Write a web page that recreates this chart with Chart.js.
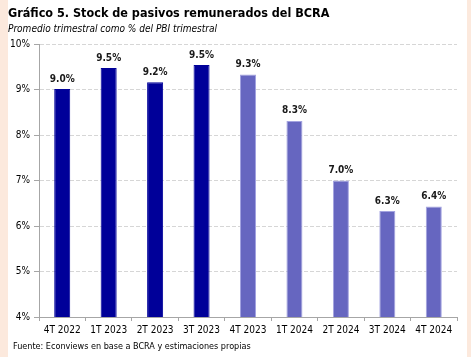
<!DOCTYPE html>
<html><head><meta charset="utf-8">
<script src="https://cdn.jsdelivr.net/npm/chart.js@4/dist/chart.umd.min.js"></script>
<style>
html,body{margin:0;padding:0;}
body{width:471px;height:357px;background:#FCE9DD;position:relative;overflow:hidden;font-family:"DejaVu Sans Condensed","DejaVu Sans",sans-serif;}
#panel{position:absolute;left:8px;top:0;width:459px;height:357px;background:#fff;}
#c{position:absolute;left:0;top:0;}
.t{position:absolute;white-space:nowrap;color:#000;}
#title{left:8px;top:5px;font-size:12.5px;font-weight:bold;}
#sub{left:8px;top:23px;font-size:10px;font-style:italic;}
#src{left:13px;top:341px;font-size:9px;}
</style></head>
<body>
<div id="panel"></div>
<canvas id="c" width="471" height="357"></canvas>
<div class="t" id="title">Gráfico 5. Stock de pasivos remunerados del BCRA</div>
<div class="t" id="sub">Promedio trimestral como % del PBI trimestral</div>
<div class="t" id="src">Fuente: Econviews en base a BCRA y estimaciones propias</div>
<script>
const categories = ["4T 2022","1T 2023","2T 2023","3T 2023","4T 2023","1T 2024","2T 2024","3T 2024","4T 2024"];
const values = [9.01, 9.47, 9.16, 9.54, 9.33, 8.31, 7.00, 6.33, 6.43];
const valueLabels = ["9.0%","9.5%","9.2%","9.5%","9.3%","8.3%","7.0%","6.3%","6.4%"];
const yTicks = [4,5,6,7,8,9,10];

const FONT = '"DejaVu Sans Condensed","DejaVu Sans",sans-serif';
const fill = categories.map((c,i)=> i<4 ? '#000099' : '#6666C0');
const border = categories.map((c,i)=> i<4 ? '#000099' : '#A3A3E0');

const labelPlugin = {
  id:'vlabels',
  afterDatasetsDraw(chart){
    const ctx = chart.ctx;
    const meta = chart.getDatasetMeta(0);
    ctx.save();
    ctx.font = 'bold 10px ' + FONT;
    ctx.fillStyle = '#1a1a1a';
    ctx.textAlign = 'center';
    ctx.textBaseline = 'bottom';
    meta.data.forEach((bar,i)=>{
      ctx.fillText(valueLabels[i], bar.x, bar.y - 5);
    });
    ctx.restore();
  }
};

new Chart(document.getElementById('c'), {
  type:'bar',
  data:{labels:categories, datasets:[{data:values, backgroundColor:fill, borderColor:border, borderWidth:1, barPercentage:0.345, categoryPercentage:1}]},
  options:{
    responsive:false, animation:false,
    layout:{padding:{left:0,right:14,top:44,bottom:18}},
    plugins:{legend:{display:false}, tooltip:{enabled:false}},
    scales:{
      y:{
        min:4, max:10,
        afterBuildTicks(s){ s.ticks = yTicks.map(v=>({value:v})); },
        afterFit(s){ s.width = 39; },
        ticks:{callback:v=>v+'%', color:'#000', font:{family:FONT,size:10}, padding:4},
        grid:{color:'#d6d6d6', tickColor:'#a6a6a6', tickLength:5, tickBorderDash:[], lineWidth:1},
        border:{color:'#a6a6a6', dash:[4,2]}
      },
      x:{
        afterFit(s){ s.height = 22; },
        ticks:{color:'#000', font:{family:FONT,size:10}, padding:3, maxRotation:0, autoSkip:false},
        grid:{drawOnChartArea:false, tickColor:'#a6a6a6', tickLength:4, offset:true},
        border:{color:'#a6a6a6'}
      }
    }
  },
  plugins:[labelPlugin]
});
</script>
</body></html>
